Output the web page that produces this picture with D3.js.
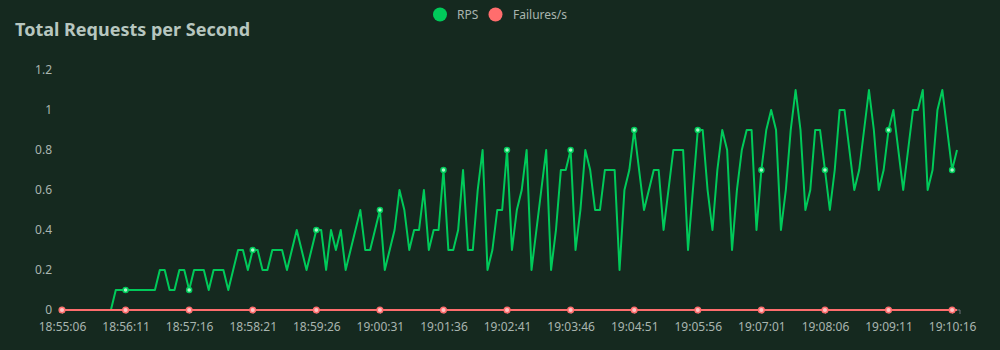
<!DOCTYPE html>
<html>
<head>
<meta charset="utf-8">
<script src="https://cdn.jsdelivr.net/npm/d3@7"></script>
<style>
  body { margin: 0; background: #15291f; }
  svg { display: block; font-family: "Noto Sans", "Open Sans", sans-serif; }
</style>
</head>
<body>
<div id="chart"></div>
<script>
var svgWidth = 1000;
var svgHeight = 350;

// x tick labels, one every 13 samples (5 s per sample)
var tickLabels = ["18:55:06", "18:56:11", "18:57:16", "18:58:21", "18:59:26",
  "19:00:31", "19:01:36", "19:02:41", "19:03:46", "19:04:51",
  "19:05:56", "19:07:01", "19:08:06", "19:09:11", "19:10:16"];
var tickEvery = 13;

// requests per second
var rps = [
  0, 0, 0, 0, 0, 0, 0, 0, 0, 0,
  0, 0.1, 0.1, 0.1, 0.1, 0.1, 0.1, 0.1, 0.1, 0.1,
  0.2, 0.2, 0.1, 0.1, 0.2, 0.2, 0.1, 0.2, 0.2, 0.2,
  0.1, 0.2, 0.2, 0.2, 0.1, 0.2, 0.3, 0.3, 0.2, 0.3,
  0.3, 0.2, 0.2, 0.3, 0.3, 0.3, 0.2, 0.3, 0.4, 0.3,
  0.2, 0.3, 0.4, 0.4, 0.2, 0.4, 0.3, 0.4, 0.2, 0.3,
  0.4, 0.5, 0.3, 0.3, 0.4, 0.5, 0.2, 0.3, 0.4, 0.6,
  0.5, 0.3, 0.4, 0.4, 0.6, 0.3, 0.4, 0.4, 0.7, 0.3,
  0.3, 0.4, 0.7, 0.3, 0.3, 0.6, 0.8, 0.2, 0.3, 0.5,
  0.5, 0.8, 0.3, 0.5, 0.6, 0.8, 0.2, 0.4, 0.6, 0.8,
  0.2, 0.4, 0.7, 0.7, 0.8, 0.3, 0.5, 0.8, 0.7, 0.5,
  0.5, 0.7, 0.7, 0.7, 0.2, 0.6, 0.7, 0.9, 0.7, 0.5,
  0.6, 0.7, 0.7, 0.4, 0.6, 0.8, 0.8, 0.8, 0.3, 0.6,
  0.9, 0.9, 0.6, 0.4, 0.7, 0.9, 0.8, 0.3, 0.6, 0.8,
  0.9, 0.9, 0.4, 0.7, 0.9, 1.0, 0.9, 0.4, 0.6, 0.9,
  1.1, 0.9, 0.5, 0.6, 0.9, 0.9, 0.7, 0.5, 0.7, 1.0,
  1.0, 0.8, 0.6, 0.7, 0.9, 1.1, 0.9, 0.6, 0.7, 0.9,
  1.0, 0.8, 0.6, 0.8, 1.0, 1.0, 1.1, 0.6, 0.7, 1.0,
  1.1, 0.9, 0.7, 0.8
];

// failures per second (all zero)
var failures = rps.map(function() { return 0; });

var yTicks = [0, 0.2, 0.4, 0.6, 0.8, 1, 1.2];

var green = "#00ca5a";
var red = "#ff6d6d";
var textColor = "#a9b5af";

var svg = d3.select("#chart")
  .append("svg")
  .attr("width", svgWidth)
  .attr("height", svgHeight);

svg.append("rect")
  .attr("width", svgWidth)
  .attr("height", svgHeight)
  .attr("fill", "#15291f");

// title
svg.append("text")
  .attr("x", 15)
  .attr("y", 36)
  .attr("fill", "#b7c6bf")
  .style("font-size", "18px")
  .style("font-weight", "bold")
  .text("Total Requests per Second");

// legend
var legend = [
  { name: "RPS", color: green, cx: 440, tx: 457 },
  { name: "Failures/s", color: red, cx: 495.5, tx: 513 }
];
var legendGroup = svg.append("g");
legendGroup.selectAll("circle")
  .data(legend)
  .enter()
  .append("circle")
  .attr("cx", d => d.cx)
  .attr("cy", 14.5)
  .attr("r", 7)
  .attr("fill", d => d.color);
legendGroup.selectAll("text")
  .data(legend)
  .enter()
  .append("text")
  .attr("x", d => d.tx)
  .attr("y", 19)
  .attr("fill", textColor)
  .style("font-size", "12px")
  .text(d => d.name);

// scales
var xScale = d3.scaleLinear()
  .domain([0, rps.length - 1])
  .range([62, 957]);

var yScale = d3.scaleLinear()
  .domain([0, 1.2])
  .range([310, 70]);

// y axis labels (no line)
var yAxis = d3.axisLeft(yScale)
  .tickValues(yTicks)
  .tickSize(0)
  .tickPadding(0)
  .tickFormat(d3.format("~g"));

var yAxisGroup = svg.append("g")
  .attr("transform", "translate(52,0)")
  .call(yAxis);
yAxisGroup.select(".domain").remove();
yAxisGroup.selectAll("text")
  .attr("fill", textColor)
  .style("font-size", "12px")
  .style("font-family", "'Noto Sans', sans-serif");

// x axis
var xTickIdx = tickLabels.map((t, i) => i * tickEvery);
var xAxis = d3.axisBottom(xScale)
  .tickValues(xTickIdx)
  .tickSize(4)
  .tickSizeOuter(0)
  .tickPadding(8)
  .tickFormat((d, i) => tickLabels[i]);

var xAxisGroup = svg.append("g")
  .attr("transform", "translate(0,310)")
  .call(xAxis);
xAxisGroup.select(".domain")
  .attr("d", "M62,0H960V4")
  .attr("stroke", "#6e7079");
xAxisGroup.selectAll(".tick line").attr("stroke", "#6e7079");
xAxisGroup.selectAll("text")
  .attr("fill", textColor)
  .style("font-size", "12px")
  .style("font-family", "'Noto Sans', sans-serif");

var line = d3.line()
  .x((d, i) => xScale(i))
  .y(d => yScale(d));

// RPS series
svg.append("path")
  .datum(rps)
  .attr("fill", "none")
  .attr("stroke", green)
  .attr("stroke-width", 2)
  .attr("stroke-linejoin", "round")
  .attr("d", line);

svg.append("g")
  .selectAll("circle")
  .data(xTickIdx)
  .enter()
  .append("circle")
  .attr("cx", d => xScale(d))
  .attr("cy", d => yScale(rps[d]))
  .attr("r", 2.5)
  .attr("fill", "#a8f5c8")
  .attr("stroke", green)
  .attr("stroke-width", 1.5);

// Failures series
svg.append("path")
  .datum(failures)
  .attr("fill", "none")
  .attr("stroke", red)
  .attr("stroke-width", 2)
  .attr("d", line);

svg.append("g")
  .selectAll("circle")
  .data(xTickIdx)
  .enter()
  .append("circle")
  .attr("cx", d => xScale(d))
  .attr("cy", d => yScale(failures[d]))
  .attr("r", 2.8)
  .attr("fill", "#ffc4c4")
  .attr("stroke", red)
  .attr("stroke-width", 1.5);
</script>
</body>
</html>
